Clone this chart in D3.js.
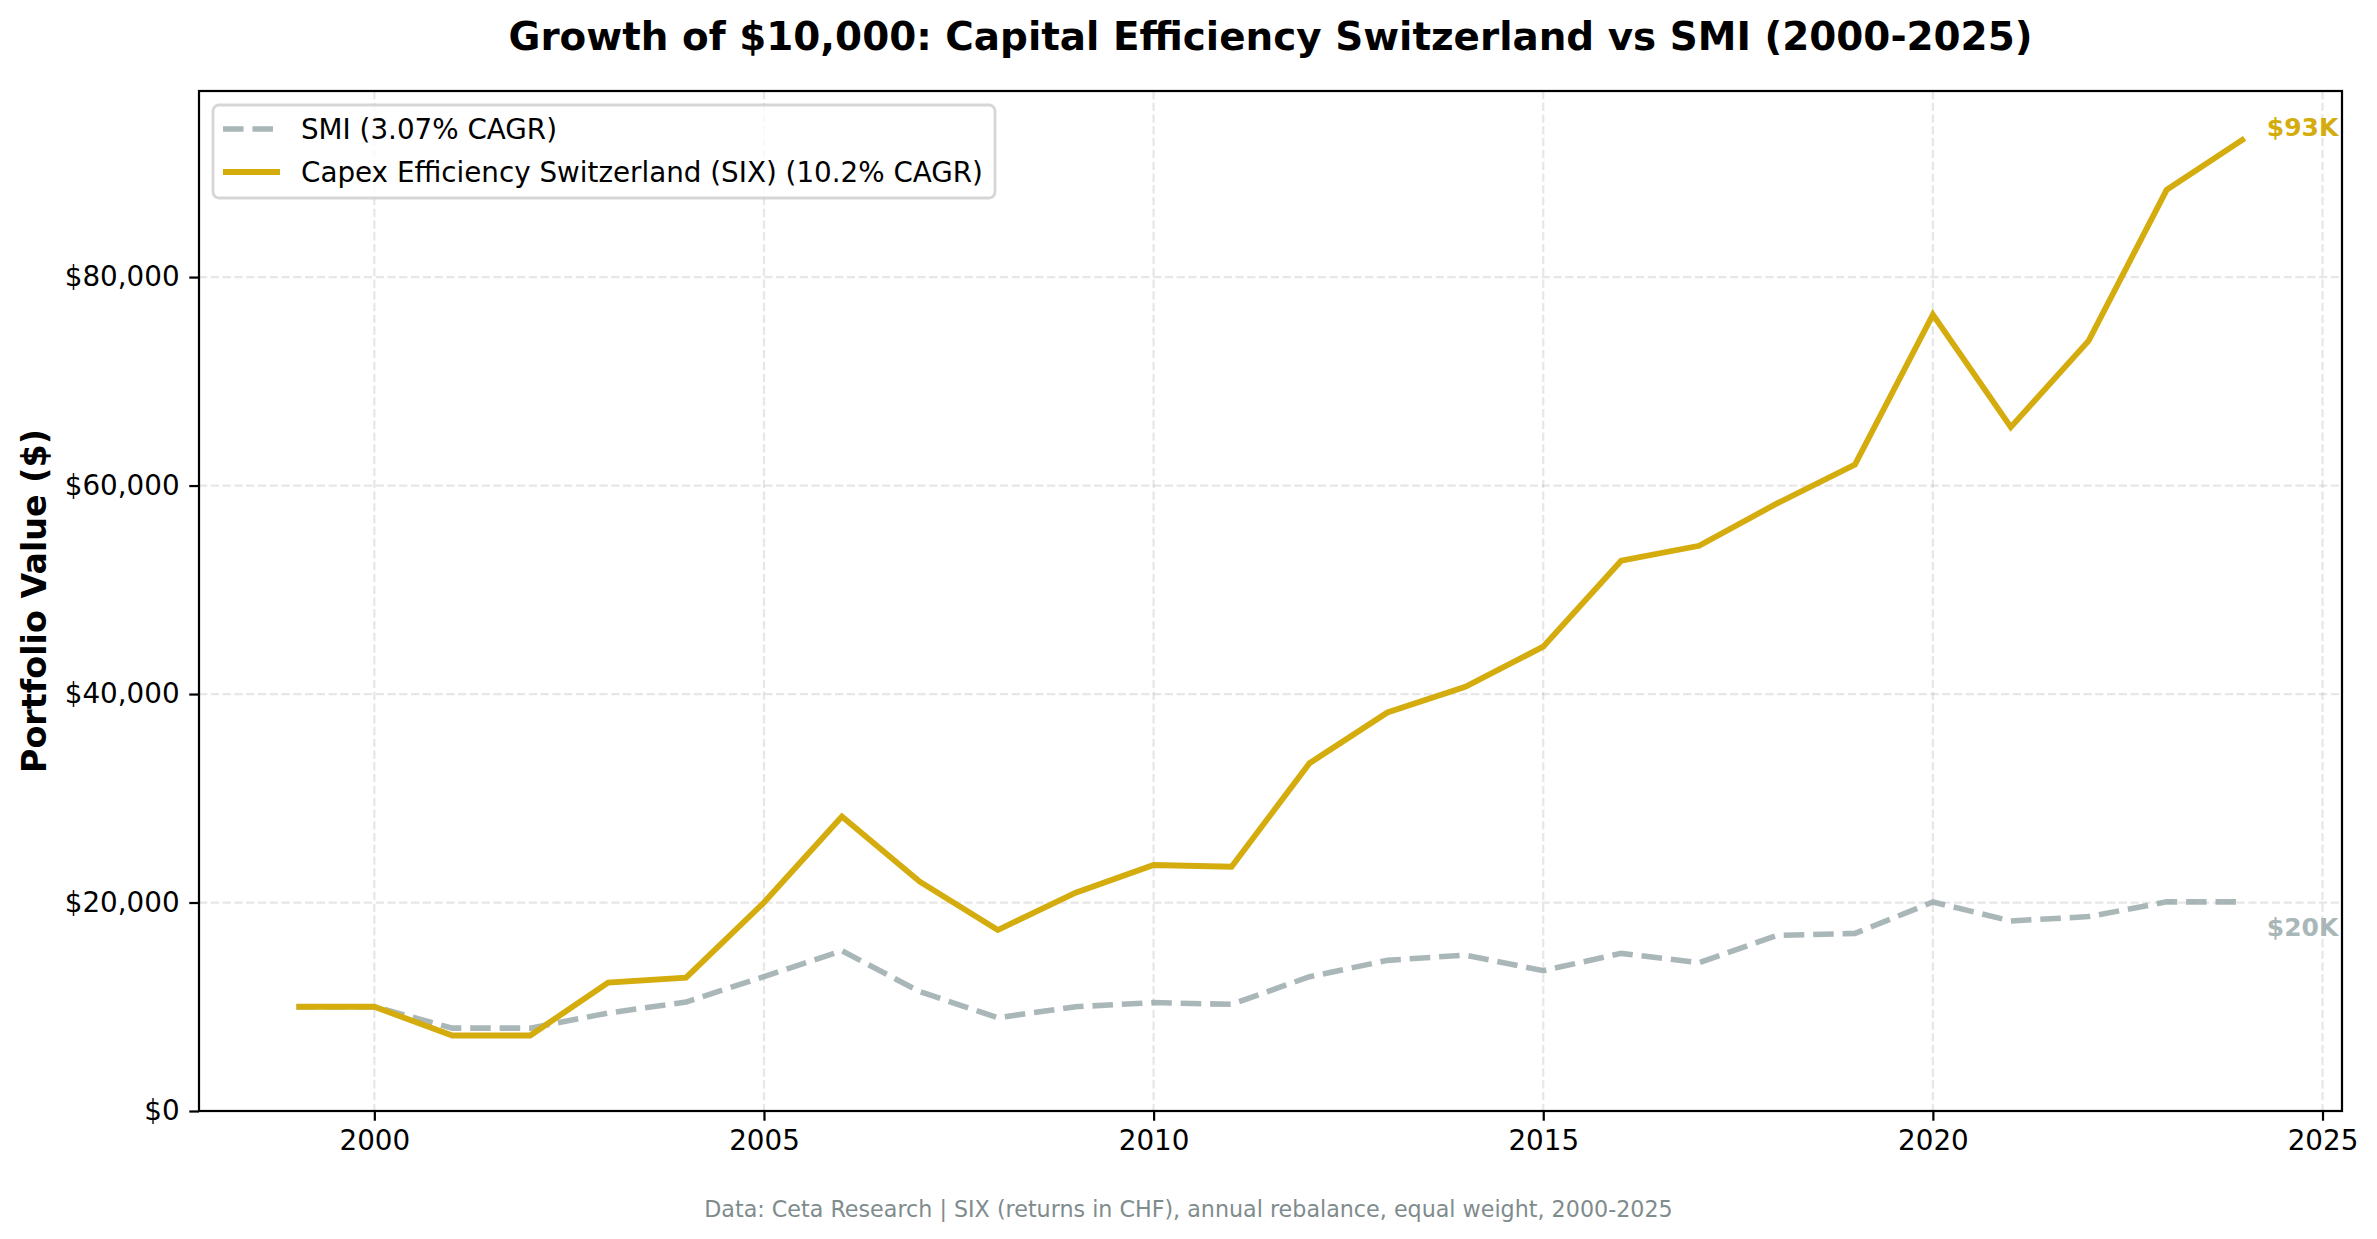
<!DOCTYPE html>
<html>
<head>
<meta charset="utf-8">
<script src="https://cdn.jsdelivr.net/npm/d3@7"></script>
<style>
    html, body { margin: 0; padding: 0; background: #ffffff; }
    svg { display: block; font-family: "DejaVu Sans", sans-serif; }
</style>
</head>
<body>
<div id="chart"></div>
<script>
// values
var years = [1999, 2000, 2001, 2002, 2003, 2004, 2005, 2006, 2007, 2008, 2009, 2010, 2011, 2012,
    2013, 2014, 2015, 2016, 2017, 2018, 2019, 2020, 2021, 2022, 2023, 2024];
var smiValues = [10000, 10000, 7950, 7950, 9400, 10450, 12900, 15370, 11450, 8950, 10000, 10400, 10230, 12880,
    14450, 14960, 13460, 15120, 14230, 16850, 17040, 20050, 18230, 18650, 20060, 20060];
var capexValues = [10000, 10000, 7240, 7240, 12320, 12800, 20000, 28250, 22000, 17360, 20940, 23600, 23430, 33360,
    38230, 40690, 44540, 52790, 54220, 58290, 62020, 76400, 65600, 73900, 88370, 93300];
var xTickYears = [2000, 2005, 2010, 2015, 2020, 2025];
var yTickValues = [0, 20000, 40000, 60000, 80000];
var seriesNames = ['SMI (3.07% CAGR)', 'Capex Efficiency Switzerland (SIX) (10.2% CAGR)'];

var W = 2377, H = 1239;
var pt = 200 / 72; // figure was saved at 200 dpi
var plot = { left: 199, right: 2342, top: 91, bottom: 1111 };

var gold = '#d4ac0d';
var grey = '#95a5a6';

var svg = d3.select('#chart').append('svg')
    .attr('width', W)
    .attr('height', H)
    .attr('viewBox', '0 0 ' + W + ' ' + H);

svg.append('rect').attr('width', W).attr('height', H).attr('fill', '#ffffff');

var x = d3.scaleLinear().domain([1997.75, 2025.25]).range([plot.left, plot.right]);
var y = d3.scaleLinear().domain([0, 97850]).range([plot.bottom, plot.top]);

// grid
var grid = svg.append('g').attr('class', 'grid');
grid.selectAll('.gx').data(xTickYears).enter().append('line')
    .attr('x1', function(d) { return x(d); })
    .attr('x2', function(d) { return x(d); })
    .attr('y1', plot.top)
    .attr('y2', plot.bottom)
    .attr('stroke', '#b0b0b0')
    .attr('stroke-opacity', 0.3)
    .attr('stroke-width', 0.8 * pt)
    .attr('stroke-dasharray', (2.96 * pt) + ',' + (1.28 * pt));
grid.selectAll('.gy').data(yTickValues).enter().append('line')
    .attr('x1', plot.left)
    .attr('x2', plot.right)
    .attr('y1', function(d) { return y(d); })
    .attr('y2', function(d) { return y(d); })
    .attr('stroke', '#b0b0b0')
    .attr('stroke-opacity', 0.3)
    .attr('stroke-width', 0.8 * pt)
    .attr('stroke-dasharray', (2.96 * pt) + ',' + (1.28 * pt));

// lines
var line = d3.line()
    .x(function(d) { return x(d[0]); })
    .y(function(d) { return y(d[1]); });

var smiPoints = d3.zip(years, smiValues);
var capexPoints = d3.zip(years, capexValues);

var lw = 2 * pt;
var dash = (3.7 * lw) + ',' + (1.6 * lw);

svg.append('path')
    .datum(smiPoints)
    .attr('d', line)
    .attr('fill', 'none')
    .attr('stroke', grey)
    .attr('stroke-opacity', 0.8)
    .attr('stroke-width', lw)
    .attr('stroke-dasharray', dash);

svg.append('path')
    .datum(capexPoints)
    .attr('d', line)
    .attr('fill', 'none')
    .attr('stroke', gold)
    .attr('stroke-width', 2.1 * pt)
    .attr('stroke-linejoin', 'miter');

// end labels
var fmtK = function(v) { return '$' + d3.format('.0f')(v / 1000) + 'K'; };
var lastYear = years[years.length - 1];
svg.append('text')
    .attr('x', x(lastYear) + 8 * pt)
    .attr('y', y(capexValues[capexValues.length - 1]) - 11)
    .attr('dominant-baseline', 'central')
    .attr('font-size', 9 * pt)
    .attr('font-weight', 'bold')
    .attr('fill', gold)
    .text(fmtK(capexValues[capexValues.length - 1]));
svg.append('text')
    .attr('x', x(lastYear) + 8 * pt)
    .attr('y', y(smiValues[smiValues.length - 1]) + 26)
    .attr('dominant-baseline', 'central')
    .attr('font-size', 9 * pt)
    .attr('font-weight', 'bold')
    .attr('fill', '#aab7b8')
    .text(fmtK(smiValues[smiValues.length - 1]));

// axes
var tickLen = 3.5 * pt;
var xAxis = d3.axisBottom(x)
    .tickValues(xTickYears)
    .tickFormat(d3.format('d'))
    .tickSize(tickLen)
    .tickPadding(3.5 * pt);
var yAxis = d3.axisLeft(y)
    .tickValues(yTickValues)
    .tickFormat(function(d) { return '$' + d3.format(',')(d); })
    .tickSize(tickLen)
    .tickPadding(3.5 * pt);

var gx = svg.append('g')
    .attr('transform', 'translate(0,' + plot.bottom + ')')
    .call(xAxis);
var gy = svg.append('g')
    .attr('transform', 'translate(' + plot.left + ',0)')
    .call(yAxis);

[gx, gy].forEach(function(g) {
    g.select('.domain').remove();
    g.selectAll('.tick line').attr('stroke', '#000').attr('stroke-width', 0.8 * pt);
    g.selectAll('.tick text')
        .attr('fill', '#000')
        .attr('font-size', 10 * pt)
        .attr('font-family', '"DejaVu Sans", sans-serif');
});

// spines
svg.append('rect')
    .attr('x', plot.left)
    .attr('y', plot.top)
    .attr('width', plot.right - plot.left)
    .attr('height', plot.bottom - plot.top)
    .attr('fill', 'none')
    .attr('stroke', '#000')
    .attr('stroke-width', 0.8 * pt);

// legend
var legend = svg.append('g').attr('class', 'legend');
legend.append('rect')
    .attr('x', 213)
    .attr('y', 105)
    .attr('width', 782)
    .attr('height', 93)
    .attr('rx', 6)
    .attr('fill', '#ffffff')
    .attr('fill-opacity', 0.8)
    .attr('stroke', '#cccccc')
    .attr('stroke-opacity', 0.8)
    .attr('stroke-width', 1 * pt);

var legendItems = [
    { name: seriesNames[0], color: grey, opacity: 0.8, dash: dash, width: lw },
    { name: seriesNames[1], color: gold, opacity: 1, dash: null, width: 2.1 * pt }
];
legendItems.forEach(function(item, i) {
    var cy = 129 + i * 43;
    legend.append('line')
        .attr('x1', 223)
        .attr('x2', 280)
        .attr('y1', cy)
        .attr('y2', cy)
        .attr('stroke', item.color)
        .attr('stroke-opacity', item.opacity)
        .attr('stroke-width', item.width)
        .attr('stroke-dasharray', item.dash);
    legend.append('text')
        .attr('x', 301)
        .attr('y', cy)
        .attr('dominant-baseline', 'central')
        .attr('font-size', 10 * pt)
        .attr('fill', '#000')
        .text(item.name);
});

// title, axis label, footnote
svg.append('text')
    .attr('x', (plot.left + plot.right) / 2)
    .attr('y', 50)
    .attr('text-anchor', 'middle')
    .attr('font-size', 14 * pt)
    .attr('font-weight', 'bold')
    .attr('fill', '#000')
    .text('Growth of $10,000: Capital Efficiency Switzerland vs SMI (2000-2025)');

svg.append('text')
    .attr('transform', 'translate(34,' + ((plot.top + plot.bottom) / 2) + ') rotate(-90)')
    .attr('text-anchor', 'middle')
    .attr('dominant-baseline', 'central')
    .attr('font-size', 12 * pt)
    .attr('font-weight', 'bold')
    .attr('fill', '#000')
    .text('Portfolio Value ($)');

svg.append('text')
    .attr('x', W / 2)
    .attr('y', 1217)
    .attr('text-anchor', 'middle')
    .attr('font-size', 8 * pt)
    .attr('fill', '#7f8c8d')
    .text('Data: Ceta Research | SIX (returns in CHF), annual rebalance, equal weight, 2000-2025');
</script>
</body>
</html>
